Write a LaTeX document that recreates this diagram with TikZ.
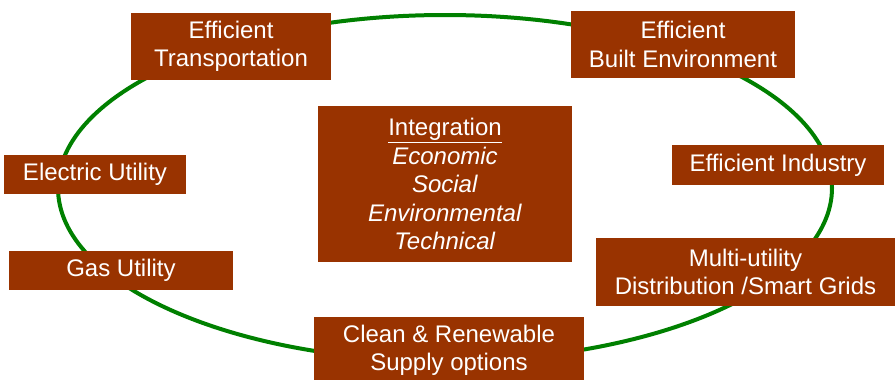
\documentclass[tikz,border=0pt]{standalone}
\usepackage{fontspec}
\setmainfont{Liberation Sans}
\definecolor{rust}{RGB}{153,51,0}
\definecolor{ring}{RGB}{0,128,0}
\tikzset{
	box/.style={fill=rust, text=white, align=center, inner sep=0pt,
		font=\fontsize{24}{28.5}\selectfont}
}

\begin{document}
\begin{tikzpicture}[x=1pt, y=-1pt]
				\useasboundingbox (0,0) rectangle (895,380);
				\draw [ring, line width=4pt] (445,188) ellipse [x radius=387, y radius=173];
				\node [box, minimum width=200, minimum height=67] (trans) at (231,46.5) {Efficient\\Transportation};
				\node [box, minimum width=224, minimum height=67] (built) at (683,44.5) {Efficient\\Built Environment};
				\node [box, minimum width=254, minimum height=156] (integ) at (445,184) {\underline{Integration}\\\textit{Economic}\\\textit{Social}\\\textit{Environmental}\\\textit{Technical}};
				\node [box, minimum width=182, minimum height=39] (elec) at (95,174.5) {Electric Utility};
				\node [box, minimum width=224, minimum height=39] (gas) at (121,270.5) {Gas Utility};
				\node [box, minimum width=212, minimum height=40] (indus) at (778,165) {Efficient Industry};
				\node [box, minimum width=299, minimum height=68] (multi) at (745.5,272) {Multi-utility\\Distribution /Smart Grids};
				\node [box, minimum width=270, minimum height=67] (clean) at (449,350.5) {Clean \& Renewable\\Supply options};
			\end{tikzpicture}
\end{document}
